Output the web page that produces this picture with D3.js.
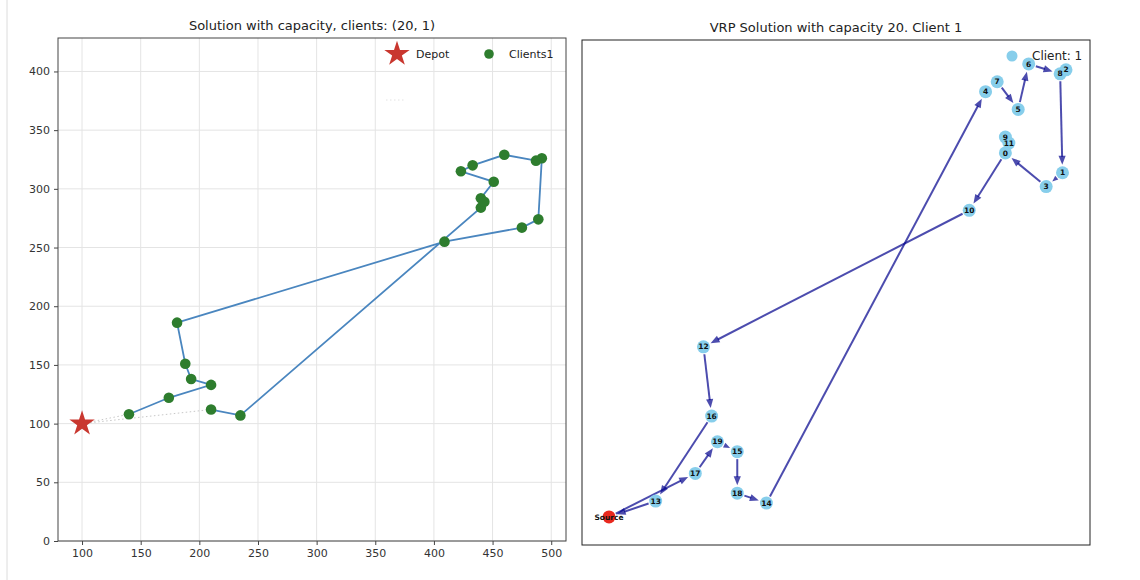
<!DOCTYPE html>
<html>
<head>
<meta charset="utf-8">
<script src="https://cdn.jsdelivr.net/npm/d3@7"></script>
<style>
  body { margin: 0; background: #fff; }
  svg { font-family: "DejaVu Sans", sans-serif; display: block; }
</style>
</head>
<body>
<svg id="chart" width="1140" height="580"></svg>
<script>
// ---- data -------------------------------------------------------------
const depot = [100, 100];
const clientLabels = ["0","1","2","3","4","5","6","7","8","9","10","11","12","13","14","15","16","17","18","19"];
const clientX = [440, 489, 492, 475, 423, 451, 460, 433, 487, 440, 409, 443, 181, 140, 235, 210, 188, 174, 210, 193];
const clientY = [284, 274, 326, 267, 315, 306, 329, 320, 324, 292, 255, 289, 186, 108, 107, 133, 151, 122, 112, 138];

// visiting order drawn on the left panel (client indices)
const routeOrder = [13, 17, 15, 19, 16, 12, 10, 3, 1, 2, 8, 6, 7, 4, 5, 9, 11, 0, 14, 18];

// directed edges of the graph on the right panel
const graphEdges = [
  ["Source","17"],["17","19"],["19","15"],["15","18"],["18","14"],["14","4"],
  ["4","7"],["7","5"],["5","6"],["6","8"],["2","8"],["8","1"],["1","3"],
  ["3","0"],["9","11"],["11","0"],["0","10"],["10","12"],["12","16"],
  ["16","13"],["13","Source"]
];

const xTicks = [100, 150, 200, 250, 300, 350, 400, 450, 500];
const yTicks = [0, 50, 100, 150, 200, 250, 300, 350, 400];

const leftTitle = "Solution with capacity, clients: (20, 1)";
const rightTitle = "VRP Solution with capacity 20. Client 1";

// ---- setup ------------------------------------------------------------
const svg = d3.select("#chart");

// notebook output rule on the far left
svg.append("line").attr("x1", 7).attr("x2", 7).attr("y1", 0).attr("y2", 580)
  .attr("stroke", "#dcdcdc").attr("stroke-width", 1);

const clients = clientLabels.map((id, i) => ({ id, x: clientX[i], y: clientY[i] }));

// ---- left panel -------------------------------------------------------
const L = { left: 58, right: 566, top: 38, bottom: 541 };
const lx = d3.scaleLinear().domain([79.5, 512.6]).range([L.left, L.right]);
const ly = d3.scaleLinear().domain([0, 428.5]).range([L.bottom, L.top]);

const gl = svg.append("g");

// grid
gl.append("g").selectAll("line").data(xTicks).join("line")
  .attr("x1", d => lx(d)).attr("x2", d => lx(d))
  .attr("y1", L.top).attr("y2", L.bottom)
  .attr("stroke", "#e4e4e4").attr("stroke-width", 1);
gl.append("g").selectAll("line").data(yTicks).join("line")
  .attr("x1", L.left).attr("x2", L.right)
  .attr("y1", d => ly(d)).attr("y2", d => ly(d))
  .attr("stroke", "#e4e4e4").attr("stroke-width", 1);

// axes
const xAxis = d3.axisBottom(lx).tickValues(xTicks).tickSize(4).tickPadding(4);
const yAxis = d3.axisLeft(ly).tickValues(yTicks).tickSize(4).tickPadding(4);
gl.append("g").attr("transform", `translate(0,${L.bottom})`).call(xAxis)
  .call(g => g.select(".domain").remove());
gl.append("g").attr("transform", `translate(${L.left},0)`).call(yAxis)
  .call(g => g.select(".domain").remove());
gl.selectAll(".tick text").attr("font-size", 11).attr("fill", "#333")
  .attr("font-family", "DejaVu Sans, sans-serif");
gl.selectAll(".tick line").attr("stroke", "#444");

// dotted connectors to the depot
const first = clients[routeOrder[0]], last = clients[routeOrder[routeOrder.length - 1]];
[[depot, [first.x, first.y]], [[last.x, last.y], depot]].forEach(([a, b]) => {
  gl.append("line")
    .attr("x1", lx(a[0])).attr("y1", ly(a[1]))
    .attr("x2", lx(b[0])).attr("y2", ly(b[1]))
    .attr("stroke", "#c8c8c8").attr("stroke-width", 1)
    .attr("stroke-dasharray", "1.5,2.5");
});

// route line
const routeLine = d3.line().x(d => lx(d.x)).y(d => ly(d.y));
gl.append("path").datum(routeOrder.map(i => clients[i]))
  .attr("d", routeLine).attr("fill", "none")
  .attr("stroke", "#4a86bf").attr("stroke-width", 1.8);

// client points
gl.append("g").selectAll("circle").data(clients).join("circle")
  .attr("cx", d => lx(d.x)).attr("cy", d => ly(d.y)).attr("r", 5.3)
  .attr("fill", "#2e7d2e");

// depot star
const star = d3.symbol().type(d3.symbolStar).size(200);
gl.append("path").attr("d", star())
  .attr("transform", `translate(${lx(depot[0])},${ly(depot[1])})`)
  .attr("fill", "#c9372f");

// frame
gl.append("rect").attr("x", L.left).attr("y", L.top)
  .attr("width", L.right - L.left).attr("height", L.bottom - L.top)
  .attr("fill", "none").attr("stroke", "#444").attr("stroke-width", 1);

// legend
const lg = gl.append("g");
lg.append("path").attr("d", star()).attr("transform", "translate(397,54)").attr("fill", "#c9372f");
lg.append("text").attr("x", 416).attr("y", 58).attr("font-size", 11).attr("fill", "#222").text("Depot");
lg.append("circle").attr("cx", 489).attr("cy", 54).attr("r", 4.8).attr("fill", "#2e7d2e");
lg.append("text").attr("x", 509).attr("y", 58).attr("font-size", 11).attr("fill", "#222").text("Clients1");
lg.append("line").attr("x1", 386).attr("x2", 406).attr("y1", 100).attr("y2", 100)
  .attr("stroke", "#e2e2e2").attr("stroke-width", 1).attr("stroke-dasharray", "1.5,2.5");

// title
svg.append("text").attr("x", (L.left + L.right) / 2).attr("y", 30)
  .attr("text-anchor", "middle").attr("font-size", 13).attr("fill", "#222").text(leftTitle);

// ---- right panel: directed graph ------------------------------------
const R = { left: 582, right: 1090, top: 40, bottom: 545 };
const rx = d3.scaleLinear().domain([76.8, 512.6]).range([R.left, R.right]);
const ry = d3.scaleLinear().domain([85.8, 341.1]).range([R.bottom, R.top]);

const nodes = [{ id: "Source", x: depot[0], y: depot[1] }].concat(clients);
const byId = new Map(nodes.map(n => [n.id, n]));
const nodeR = 6.5;

const gr = svg.append("g");
gr.append("rect").attr("x", R.left).attr("y", R.top)
  .attr("width", R.right - R.left).attr("height", R.bottom - R.top)
  .attr("fill", "#fff").attr("stroke", "#222").attr("stroke-width", 1);

const edgeColor = "rgba(0,0,139,0.7)";
const eg = gr.append("g");
graphEdges.forEach(([s, t]) => {
  const a = byId.get(s), b = byId.get(t);
  const x1 = rx(a.x), y1 = ry(a.y), x2 = rx(b.x), y2 = ry(b.y);
  const dx = x2 - x1, dy = y2 - y1, len = Math.hypot(dx, dy);
  // edges between overlapping nodes are hidden under the node discs
  if (len < 2 * nodeR + 3) return;
  const ux = dx / len, uy = dy / len;
  const sx = x1 + ux * (nodeR + 1), sy = y1 + uy * (nodeR + 1);
  const tipX = x2 - ux * (nodeR + 1.5), tipY = y2 - uy * (nodeR + 1.5);
  const headL = Math.min(9, len - 2 * nodeR - 2.5), headW = 3.6 * headL / 9;
  const bx = tipX - ux * headL, by = tipY - uy * headL;
  if (Math.hypot(bx - sx, by - sy) > 1 && (bx - sx) * ux + (by - sy) * uy > 0) {
    eg.append("line").attr("x1", sx).attr("y1", sy).attr("x2", bx + ux).attr("y2", by + uy)
      .attr("stroke", edgeColor).attr("stroke-width", 2);
  }
  eg.append("path")
    .attr("d", `M${tipX},${tipY}L${bx - uy * headW},${by + ux * headW}L${bx + uy * headW},${by - ux * headW}Z`)
    .attr("fill", edgeColor);
});

gr.append("g").selectAll("circle").data(nodes).join("circle")
  .attr("cx", d => rx(d.x)).attr("cy", d => ry(d.y)).attr("r", nodeR)
  .attr("fill", d => d.id === "Source" ? "#e8281e" : "#87ceeb");

gr.append("g").selectAll("text").data(nodes).join("text")
  .attr("x", d => rx(d.x)).attr("y", d => ry(d.y) + 2.6)
  .attr("text-anchor", "middle").attr("font-size", 7.5).attr("font-weight", "bold")
  .attr("fill", "#111").text(d => d.id);

// legend
gr.append("circle").attr("cx", 1012).attr("cy", 56).attr("r", 5.5).attr("fill", "#87ceeb");
gr.append("text").attr("x", 1032).attr("y", 60).attr("font-size", 12).attr("fill", "#222").text("Client: 1");

svg.append("text").attr("x", (R.left + R.right) / 2).attr("y", 32)
  .attr("text-anchor", "middle").attr("font-size", 13).attr("fill", "#222").text(rightTitle);
</script>
</body>
</html>
